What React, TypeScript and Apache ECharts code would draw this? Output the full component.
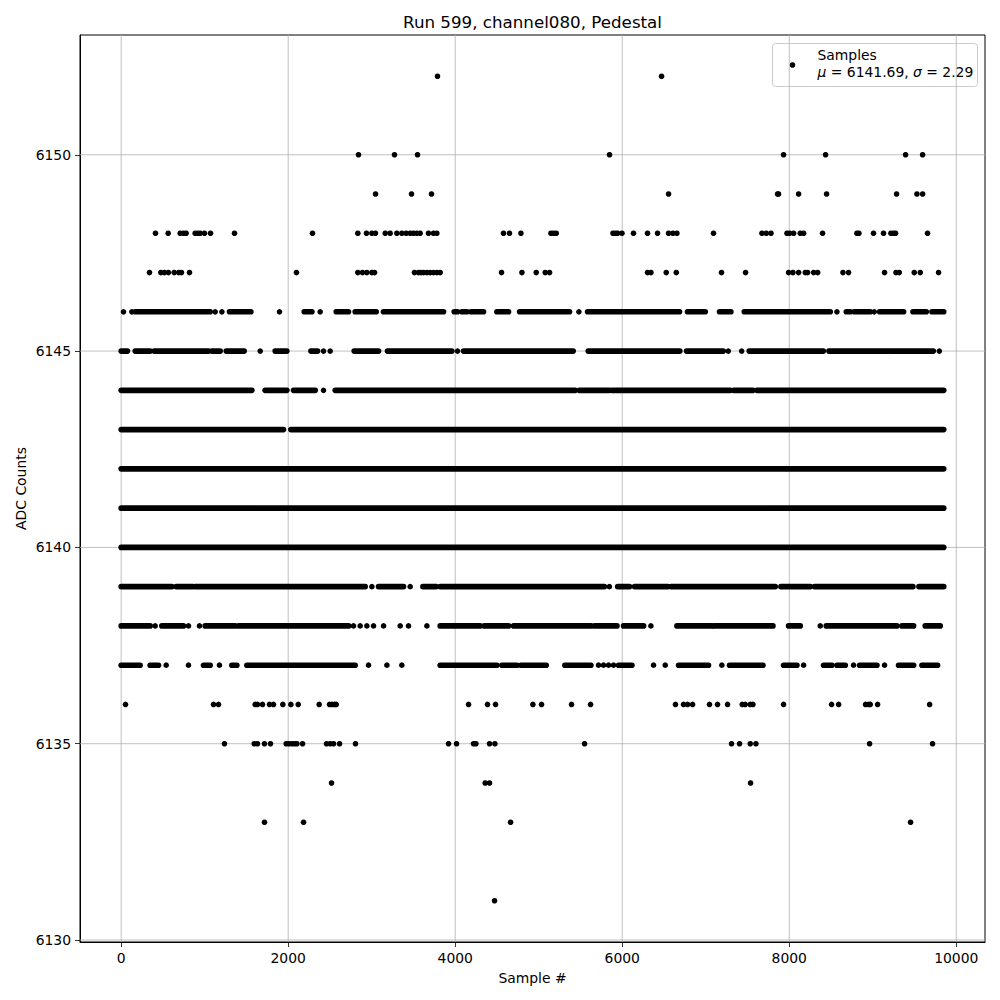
import React, { useEffect, useRef } from "react";
import * as echarts from "echarts";

// ---- axis ticks ----
const xTicks = [0, 2000, 4000, 6000, 8000, 10000];
const yTicks = [6130, 6135, 6140, 6145, 6150];

// ---- samples per ADC level: single sample index, or [first, last] for a dense run ----
const lvl6152 = [3788, 6471];
const lvl6150 = [2842, 3273, 3549, 5848, 7932, 8435, 9393, 9597];
const lvl6149 = [3046, 3477, 3716, 6555, 7860, 7872, 8112, 8447, 9285, 9529, 9597];
const lvl6148 = [411, 563, 707, 746, 778, 886, 918, 946, 998, 1070, 1357, 2291, 2834, 2937, 3002, 3045, 3162, 3221, 3301, 3361, 3413, 3461, 3500, 3540, 3580, 3680, 3740, 3780, 4578, 4650, 4787, 5146, 5178, 5210, 5889, 5916, 5944, 5997, 6135, 6303, 6423, 6555, 6607, 6655, 7093, 7673, 7725, 7781, 7973, 8005, 8052, 8132, 8172, 8399, 8810, 8834, 9009, 9129, 9217, 9249, 9273, 9656];
const lvl6147 = [339, 475, 518, 566, 635, 690, 722, 818, 2099, 2834, 2890, 2942, 3002, 3034, 3512, 3560, 3589, 3620, 3661, 3701, 3740, 3781, 3820, 4555, 4799, 4970, 5078, 5130, 6303, 6344, 6527, 6647, 7189, 7477, 7992, 8044, 8112, 8192, 8220, 8292, 8340, 8643, 8710, 9141, 9278, 9317, 9497, 9569, 9788];
const lvl6146 = [28, 128, [168, 1066], 1126, 1206, [1297, 1553], 1896, [2192, 2284], 2383, [2575, 2722], [2802, 3054], [3141, 3860], [3988, 4028], [4080, 4140], [4188, 4339], [4499, 4639], [4771, 5369], 5481, [5585, 6686], [6782, 6994], [7165, 7301], [7461, 8491], 8571, [8683, 8731], [8778, 8970], 9018, [9082, 9369], [9481, 9641], [9709, 9850]];
const lvl6145 = [[0, 75], [168, 347], [395, 1046], [1086, 1186], [1258, 1473], 1665, [1844, 1984], [2272, 2352], 2423, 2503, [2790, 3082], [3189, 3960], 4028, [4100, 5413], [5593, 6690], [6770, 7210], 7270, 7430, [7521, 8408], [8475, 9185], [9213, 9725], 9797];
const lvl6144 = [[0, 1565], [1724, 1984], [2064, 2324], 2423, [2563, 5437], [5485, 5848], [5876, 7293], [7333, 7565], [7613, 9850]];
const lvl6143 = [[0, 1944], [2032, 9850]];
const lvl6142 = [[0, 9850]];
const lvl6141 = [[0, 9850]];
const lvl6140 = [[0, 9850]];
const lvl6139 = [[0, 607], [659, 859], [886, 2922], 3002, [3082, 3381], 3461, [3613, 3772], [3820, 5786], 5846, [5946, 6087], [6148, 6547], [6583, 7832], [7900, 8252], [8303, 9481], [9553, 9850]];
const lvl6138 = [[0, 347], 407, [487, 746], 806, 938, [1006, 1366], [1406, 2723], 2782, 2862, 2942, 3022, 3142, 3341, 3441, 3661, [3820, 4299], [4347, 4639], [4699, 5628], [5669, 5937], [6016, 6256], 6343, [6655, 7073], [7101, 7805], [7992, 8132], 8371, [8443, 9289], [9349, 9489], [9628, 9808]];
const lvl6137 = [[0, 227], [347, 447], 539, 806, [986, 1066], 1177, [1325, 1385], [1505, 2802], 2962, 3182, 3361, [3820, 4499], [4559, 4739], [4787, 5090], [5313, 5625], 5716, 5776, 5836, 5896, [5956, 6116], 6375, 6515, [6675, 7033], 7193, [7285, 7685], [7932, 8092], 8172, [8411, 8511], [8571, 8671], 8770, [8842, 9050], 9141, [9309, 9489], [9589, 9776]];
const lvl6136 = [52, 1106, 1166, 1605, 1632, 1692, 1776, 1824, 1936, 2032, 2120, 2371, 2495, 2527, 2555, 2575, 4160, 4387, 4483, 4930, 5034, 5393, 5621, 6638, 6734, 6782, 6842, 7045, 7141, 7261, 7437, 7473, 7533, 7565, 7932, 8507, 8591, 8914, 8950, 8970, 9058, 9681];
const lvl6135 = [1237, 1593, 1632, 1716, 1788, 1976, 2008, 2044, 2076, 2104, 2172, 2459, 2503, 2543, 2615, 2806, 3920, 4016, 4219, 4248, 4411, 4475, 5549, 7309, 7405, 7533, 7601, 8962, 9716];
const lvl6134 = [2519, 4359, 4411, 7537];
const lvl6133 = [1716, 2184, 4663, 9453];
const lvl6131 = [4471];

const levels: [number, any[]][] = [
  [6152, lvl6152], [6150, lvl6150], [6149, lvl6149], [6148, lvl6148], [6147, lvl6147],
  [6146, lvl6146], [6145, lvl6145], [6144, lvl6144], [6143, lvl6143], [6142, lvl6142],
  [6141, lvl6141], [6140, lvl6140], [6139, lvl6139], [6138, lvl6138], [6137, lvl6137],
  [6136, lvl6136], [6135, lvl6135], [6134, lvl6134], [6133, lvl6133], [6131, lvl6131],
];

const X_MIN = -493;
const X_MAX = 10344;
const Y_MIN = 6129.95;
const Y_MAX = 6153.05;

const FONT = "DejaVu Sans";

export default function App() {
  const ref = useRef<HTMLDivElement>(null);

  useEffect(() => {
    if (!ref.current) return;
    const chart = echarts.init(ref.current, undefined, { renderer: "svg" });

    const sampleData: number[][] = [];
    levels.forEach(([v, items]) => {
      items.forEach((it) => {
        if (typeof it === "number") sampleData.push([it, it, v]);
        else sampleData.push([it[0], it[1], v]);
      });
    });

    const gridData: number[][] = [
      ...xTicks.map((v) => [0, v]),
      ...yTicks.map((v) => [1, v]),
    ];

    const plain = (v: number) => String(v);

    const option: any = {
      animation: false,
      backgroundColor: "#fff",
      grid: {
        left: 80,
        top: 35,
        width: 905,
        height: 907,
        show: true,
        borderColor: "#000",
        borderWidth: 1,
        backgroundColor: "transparent",
      },
      xAxis: {
        type: "value",
        min: X_MIN,
        max: X_MAX,
        splitLine: { show: false },
        axisLine: { show: true, onZero: false, lineStyle: { color: "#000", width: 1 } },
        axisTick: { show: true, customValues: xTicks, length: 5, lineStyle: { color: "#000", width: 0.8 } },
        axisLabel: { customValues: xTicks, formatter: plain, margin: 9, fontSize: 13.9, fontFamily: FONT, color: "#000" },
      },
      yAxis: {
        type: "value",
        min: Y_MIN,
        max: Y_MAX,
        splitLine: { show: false },
        axisLine: { show: true, onZero: false, lineStyle: { color: "#000", width: 1 } },
        axisTick: { show: true, customValues: yTicks, length: 5, lineStyle: { color: "#000", width: 0.8 } },
        axisLabel: { customValues: yTicks, formatter: plain, margin: 9, fontSize: 13.9, fontFamily: FONT, color: "#000" },
      },
      series: [
        {
          type: "custom",
          name: "grid",
          silent: true,
          z: 1,
          data: gridData,
          renderItem: (params: any, api: any) => {
            const kind = api.value(0);
            const v = api.value(1);
            const cs = params.coordSys;
            if (kind === 0) {
              const p = api.coord([v, Y_MIN]);
              return {
                type: "line",
                shape: { x1: p[0], y1: cs.y, x2: p[0], y2: cs.y + cs.height },
                style: { stroke: "#b0b0b0", lineWidth: 0.8 },
              };
            }
            const p = api.coord([X_MIN, v]);
            return {
              type: "line",
              shape: { x1: cs.x, y1: p[1], x2: cs.x + cs.width, y2: p[1] },
              style: { stroke: "#b0b0b0", lineWidth: 0.8 },
            };
          },
        },
        {
          type: "custom",
          name: "Samples",
          z: 2,
          encode: { x: [0, 1], y: 2 },
          data: sampleData,
          renderItem: (params: any, api: any) => {
            const x0 = api.value(0);
            const x1 = api.value(1);
            const y = api.value(2);
            const p0 = api.coord([x0, y]);
            const p1 = api.coord([x1, y]);
            if (x0 === x1) {
              return {
                type: "circle",
                shape: { cx: p0[0], cy: p0[1], r: 2.8 },
                style: { fill: "#000" },
              };
            }
            return {
              type: "line",
              shape: { x1: p0[0], y1: p0[1], x2: p1[0], y2: p1[1] },
              style: { stroke: "#000", lineWidth: 5.6, lineCap: "round" },
            };
          },
        },
      ],
      graphic: [
        {
          type: "text",
          x: 532.5,
          y: 21.5,
          style: {
            text: "Run 599, channel080, Pedestal",
            fontSize: 16.7,
            fontFamily: FONT,
            fill: "#000",
            align: "center",
            verticalAlign: "middle",
          },
        },
        {
          type: "text",
          x: 532.5,
          y: 978,
          style: {
            text: "Sample #",
            fontSize: 13.9,
            fontFamily: FONT,
            fill: "#000",
            align: "center",
            verticalAlign: "middle",
          },
        },
        {
          type: "text",
          x: 21,
          y: 488.5,
          rotation: Math.PI / 2,
          style: {
            text: "ADC Counts",
            fontSize: 13.9,
            fontFamily: FONT,
            fill: "#000",
            align: "center",
            verticalAlign: "middle",
          },
        },
        {
          type: "group",
          z: 100,
          children: [
            {
              type: "rect",
              shape: { x: 772.5, y: 43.5, width: 205, height: 43, r: 3 },
              style: { fill: "rgba(255,255,255,0.8)", stroke: "#cccccc", lineWidth: 1 },
            },
            {
              type: "circle",
              shape: { cx: 792.5, cy: 65, r: 2.8 },
              style: { fill: "#000" },
            },
            {
              type: "text",
              x: 817.5,
              y: 54.5,
              style: {
                text: "Samples",
                fontSize: 13.9,
                fontFamily: FONT,
                fill: "#000",
                align: "left",
                verticalAlign: "middle",
              },
            },
            {
              type: "text",
              x: 817.5,
              y: 71.5,
              style: {
                text: "{i|μ} = 6141.69, {i|σ} = 2.29",
                fontSize: 13.9,
                fontFamily: FONT,
                fill: "#000",
                align: "left",
                verticalAlign: "middle",
                rich: {
                  i: { fontStyle: "italic", fontSize: 13.9, fontFamily: FONT, fill: "#000" },
                },
              },
            },
          ],
        },
      ],
    };

    chart.setOption(option);
    return () => chart.dispose();
  }, []);

  return (
    <div
      ref={ref}
      style={{ position: "absolute", left: 0, top: 0, width: 1000, height: 1000 }}
    />
  );
}
